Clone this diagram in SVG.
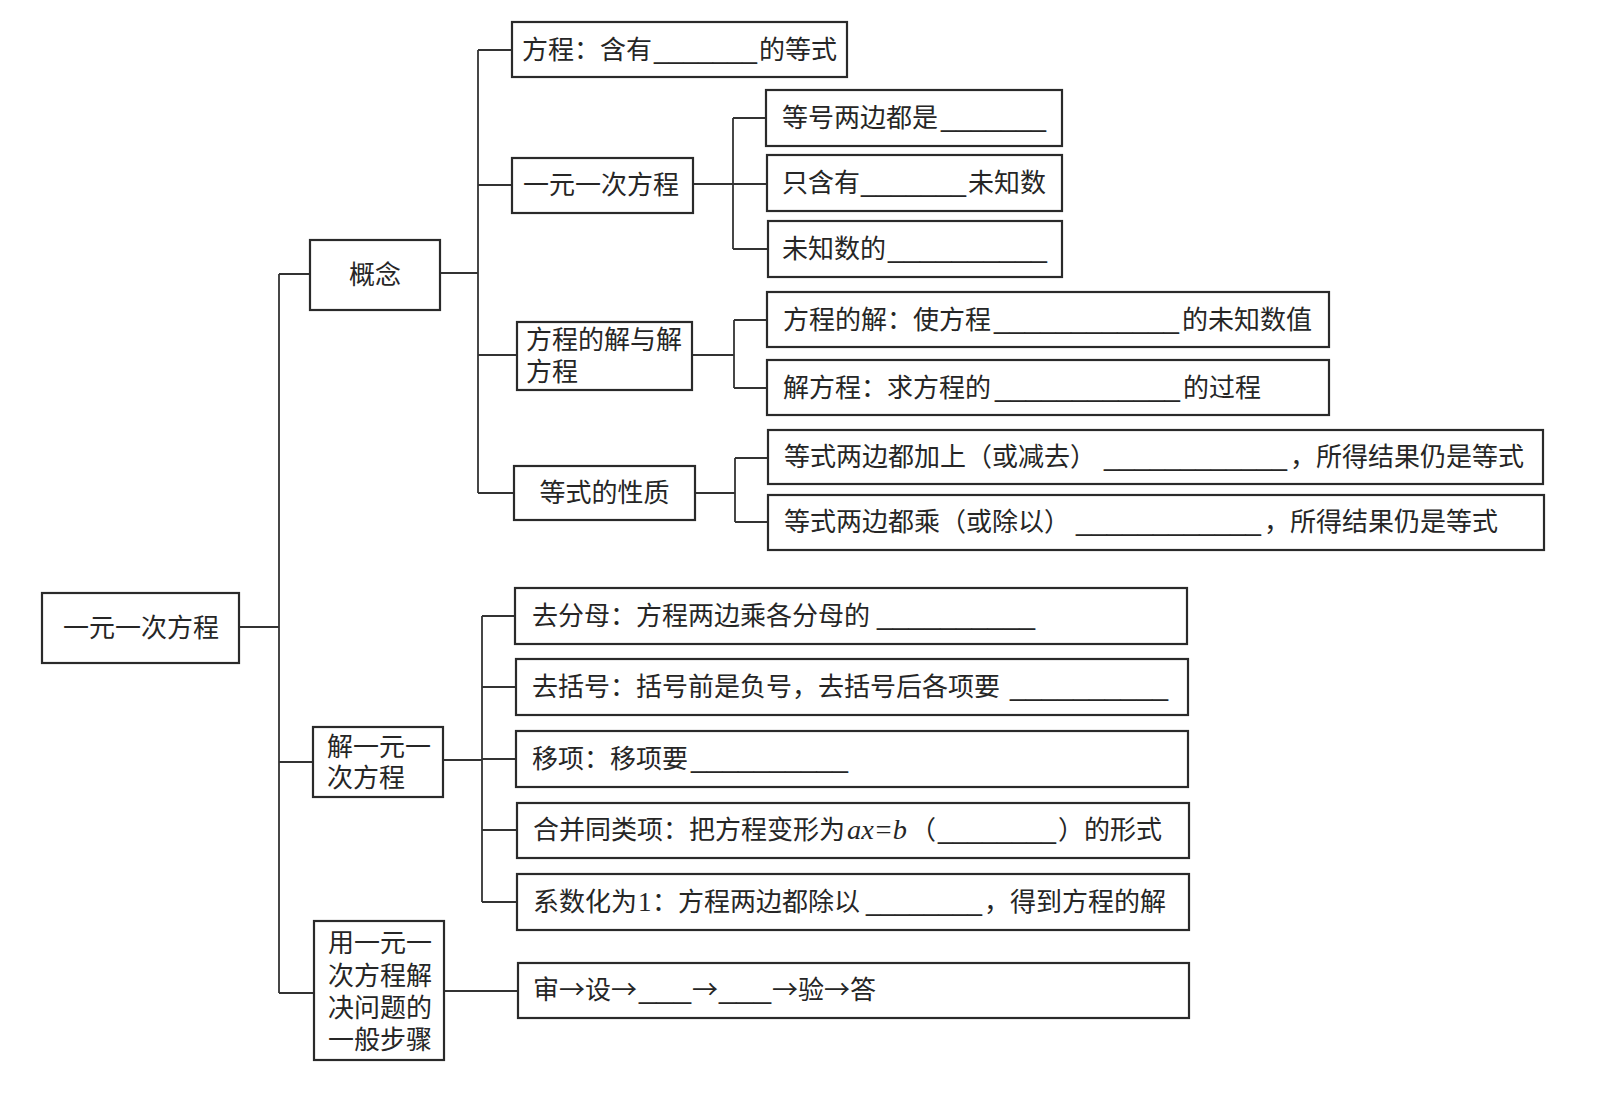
<svg xmlns="http://www.w3.org/2000/svg" width="1601" height="1093" viewBox="0 0 1601 1093">
<style>
.box{fill:#fff;stroke:#2a2a2a;stroke-width:2.2}
.t{font-family:"Noto Sans CJK SC","Noto Sans",sans-serif;font-size:26px;fill:#262626}
.u{font-family:"Liberation Sans",sans-serif;font-size:26px}
.s{font-family:"Liberation Serif",serif;font-size:27px}
.i{font-family:"Liberation Serif",serif;font-size:28px;font-style:italic}
.c{fill:none;stroke:#333;stroke-width:1.8}
</style>
<rect width="1601" height="1093" fill="#fff"/>
<g id="connectors" class="c">
<path d="M239 627H279M279 274V993M279 274H310M279 762H313M279 993H314"/>
<path d="M440 273H478M478 50V493M478 50H512M478 185H512M478 355H517M478 493H514"/>
<path d="M693 184H733M733 118V249M733 118H766M733 184H767M733 249H768"/>
<path d="M692 355H734M734 320V388M734 320H767M734 388H767"/>
<path d="M695 493H735M735 458V522M735 458H768M735 522H768"/>
<path d="M443 760H482M482 616V902M482 616H515M482 687H516M482 759H516M482 830H517M482 902H517"/>
<path d="M444 991H518"/>
</g>
<g id="root"><rect class="box" x="42" y="593" width="197" height="70"/><text class="t" x="63" y="637">一元一次方程</text></g>
<g id="gainian"><rect class="box" x="310" y="240" width="130" height="70"/><text class="t" x="375" y="284" text-anchor="middle">概念</text></g>
<g id="jie"><rect class="box" x="313" y="727" width="130" height="70"/><text class="t" x="327" y="756">解一元一<tspan x="327" dy="31">次方程</tspan></text></g>
<g id="yong"><rect class="box" x="314" y="921" width="130" height="139"/><text class="t" x="328" y="952">用一元一<tspan x="328" dy="32.5">次方程解</tspan><tspan x="328" dy="32">决问题的</tspan><tspan x="328" dy="32">一般步骤</tspan></text></g>
<g id="fangcheng"><rect class="box" x="512" y="22" width="335" height="55"/><text class="t" x="522" y="59">方程：含有<tspan class="u" x="654" textLength="103" lengthAdjust="spacingAndGlyphs">_______</tspan><tspan x="759">的等式</tspan></text></g>
<g id="yiyuan"><rect class="box" x="512" y="158" width="181" height="55"/><text class="t" x="523" y="194">一元一次方程</text></g>
<g id="jiefangcheng"><rect class="box" x="517" y="322" width="175" height="68"/><text class="t" x="526" y="349">方程的解与解<tspan x="526" dy="32">方程</tspan></text></g>
<g id="xingzhi"><rect class="box" x="514" y="466" width="181" height="54"/><text class="t" x="604.5" y="502" text-anchor="middle">等式的性质</text></g>
<g id="c1"><rect class="box" x="766" y="90" width="296" height="56"/><text class="t" x="782" y="127">等号两边都是<tspan class="u" x="941" textLength="105" lengthAdjust="spacingAndGlyphs">_______</tspan></text></g>
<g id="c2"><rect class="box" x="767" y="155" width="295" height="56"/><text class="t" x="782" y="192">只含有<tspan class="u" x="861" textLength="105" lengthAdjust="spacingAndGlyphs">_______</tspan><tspan x="968">未知数</tspan></text></g>
<g id="c3"><rect class="box" x="768" y="221" width="294" height="56"/><text class="t" x="782" y="258">未知数的<tspan class="u" x="888" textLength="159" lengthAdjust="spacingAndGlyphs">__________</tspan></text></g>
<g id="c4"><rect class="box" x="767" y="292" width="562" height="55"/><text class="t" x="783" y="329">方程的解：使方程<tspan class="u" x="994" textLength="185" lengthAdjust="spacingAndGlyphs">____________</tspan><tspan x="1182">的未知数值</tspan></text></g>
<g id="c5"><rect class="box" x="767" y="360" width="562" height="55"/><text class="t" x="783" y="397">解方程：求方程的<tspan class="u" x="995" textLength="185" lengthAdjust="spacingAndGlyphs">____________</tspan><tspan x="1183">的过程</tspan></text></g>
<g id="c6"><rect class="box" x="768" y="430" width="775" height="54"/><text class="t" x="784" y="466">等式两边都加上（或减去）<tspan class="u" x="1104" textLength="183" lengthAdjust="spacingAndGlyphs">____________</tspan><tspan x="1290">，所得结果仍是等式</tspan></text></g>
<g id="c7"><rect class="box" x="768" y="495" width="776" height="55"/><text class="t" x="784" y="531">等式两边都乘（或除以）<tspan class="u" x="1076" textLength="185" lengthAdjust="spacingAndGlyphs">____________</tspan><tspan x="1264">，所得结果仍是等式</tspan></text></g>
<g id="s1"><rect class="box" x="515" y="588" width="672" height="56"/><text class="t" x="532" y="625">去分母：方程两边乘各分母的<tspan class="u" x="877" textLength="158" lengthAdjust="spacingAndGlyphs">__________</tspan></text></g>
<g id="s2"><rect class="box" x="516" y="659" width="672" height="56"/><text class="t" x="532" y="696">去括号：括号前是负号，去括号后各项要<tspan class="u" x="1010" textLength="158" lengthAdjust="spacingAndGlyphs">__________</tspan></text></g>
<g id="s3"><rect class="box" x="516" y="731" width="672" height="56"/><text class="t" x="532" y="768">移项：移项要<tspan class="u" x="691" textLength="157" lengthAdjust="spacingAndGlyphs">__________</tspan></text></g>
<g id="s4"><rect class="box" x="517" y="803" width="672" height="55"/><text class="t" x="533" y="839">合并同类项：把方程变形为<tspan class="i" x="847" textLength="60" lengthAdjust="spacingAndGlyphs">ax=b</tspan><tspan x="910">（</tspan><tspan class="u" x="938" textLength="118" lengthAdjust="spacingAndGlyphs">________</tspan><tspan x="1058">）的形式</tspan></text></g>
<g id="s5"><rect class="box" x="517" y="874" width="672" height="56"/><text class="t" x="533" y="911">系数化为<tspan class="s" x="638">1</tspan><tspan x="652">：方程两边都除以</tspan><tspan class="u" x="866" textLength="116" lengthAdjust="spacingAndGlyphs">________</tspan><tspan x="984">，得到方程的解</tspan></text></g>
<g id="s6"><rect class="box" x="518" y="963" width="671" height="55"/><text class="t" x="533" y="999">审→设→<tspan class="u" x="639" textLength="52" lengthAdjust="spacingAndGlyphs">___</tspan><tspan x="692">→</tspan><tspan class="u" x="719" textLength="52" lengthAdjust="spacingAndGlyphs">___</tspan><tspan x="772">→验→答</tspan></text></g>
</svg>
